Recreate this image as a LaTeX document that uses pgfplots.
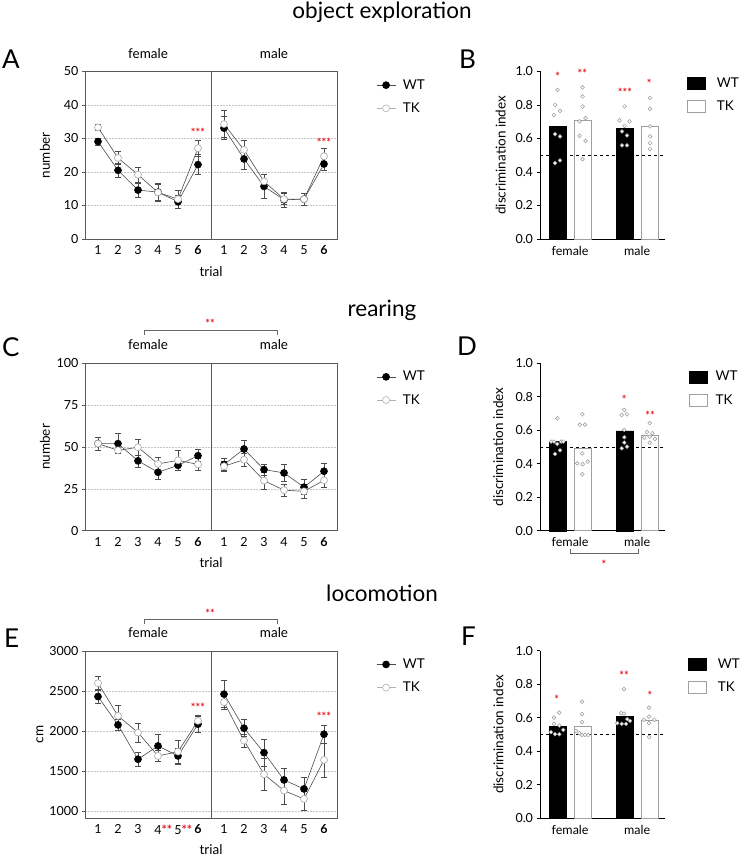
\documentclass[border=0pt]{standalone}
\usepackage{pgfplots}
\pgfplotsset{compat=1.18}
\usepackage{fontspec}
\setmainfont{Lato}
\definecolor{starred}{RGB}{230,20,30}
\begin{document}
\begin{tikzpicture}[x=1pt,y=-1pt]
\useasboundingbox (0,0) rectangle (740,858);
\tikzset{starn/.style={text=starred, font=\fontsize{11}{11}\selectfont\bfseries, anchor=base, inner sep=0pt},
  lab/.style={font=\fontsize{13.5}{15}\selectfont, anchor=base, inner sep=0pt},
  panel/.style={font=\fontsize{26}{28}\selectfont, anchor=base west, inner sep=0pt},
  ttl/.style={font=\fontsize{22.5}{24}\selectfont, anchor=base, inner sep=0pt}}
\newcommand{\st}[1]{\textcolor{starred}{\bfseries #1}}
\pgfplotsset{
  every axis/.append style={font=\fontsize{13.5}{15}\selectfont},
  tick label style={font=\fontsize{12.5}{14}\selectfont},
  /pgf/number format/assume math mode=true,
  wt/.style={black!70, line width=0.6pt, mark=*, mark size=3.5pt, mark options={fill=black, draw=black, solid},
    error bars/y dir=both, error bars/y explicit,
    error bars/error bar style={black!70, line width=0.6pt},
    error bars/error mark options={rotate=90, mark size=3pt, black!70, line width=0.6pt}},
  tk/.style={black!70, line width=0.6pt, mark=*, mark size=3.5pt, mark options={fill=white, draw=gray!70, solid},
    error bars/y dir=both, error bars/y explicit,
    error bars/error bar style={black!70, line width=0.6pt},
    error bars/error mark options={rotate=90, mark size=3pt, black!70, line width=0.6pt}},
  linepanel/.style={anchor=south west, scale only axis, width=252pt, height=167.5pt,
    xmin=0.35, xmax=12.95, xtick={1,2,3,4,5,6,7.3,8.3,9.3,10.3,11.3,12.3},
    axis line style={black!65, line width=0.6pt},
    x tick style={draw=none}, ytick pos=left, y tick style={black!65, line width=0.6pt},
    tick align=outside, major tick length=3pt,
    ymajorgrids, grid style={gray!45, line width=0.6pt, dash pattern=on 2pt off 1pt},
    xlabel={trial}, xlabel style={at={(axis description cs:0.5,-0.222)}, anchor=base},
    clip=false,
    legend style={at={(axis description cs:1.155,0.965)}, anchor=north west, draw=none, fill=none,
      font=\fontsize{13.5}{15}\selectfont, row sep=8pt, column sep=5pt, inner sep=0pt},
    legend cell align=left,
    legend image code/.code={\draw[mark repeat=2,mark phase=2,##1] plot coordinates {(0pt,0pt) (9.5pt,0pt) (19pt,0pt)};}},
  barpanel/.style={anchor=south west, scale only axis, width=125pt, height=167.5pt,
    xmin=0, xmax=125, ymin=0, ymax=1, axis x line*=bottom, axis y line*=left,
    axis line style={black, line width=0.7pt},
    xtick={30.1,97.2}, xticklabels={female,male}, x tick style={draw=none},
    ytick={0,0.2,0.4,0.6,0.8,1}, yticklabel style={/pgf/number format/.cd, fixed, fixed zerofill, precision=1},
    tick align=outside, y tick style={black, line width=0.7pt}, major tick length=3.5pt,
    ylabel={discrimination index}, clip=false,
    legend style={at={(axis description cs:1.176,0.975)}, anchor=north west, draw=none, fill=none,
      font=\fontsize{13.5}{15}\selectfont, row sep=8pt, column sep=9pt, inner sep=0pt},
    legend cell align=left,
    legend image code/.code={\draw[##1] (0pt,-6pt) rectangle (18pt,6pt);}},
  wtbar/.style={ybar, bar width=17, bar shift=0pt, fill=black, draw=black, forget plot},
  tkbar/.style={ybar, bar width=17, bar shift=0pt, fill=white, draw=gray!75, line width=0.7pt, forget plot},
  dots/.style={only marks, mark=*, mark size=1.9pt, mark options={fill=white, draw=gray!80, line width=0.5pt}, forget plot},
}

% ---------- titles and panel letters ----------
\node[ttl] at (382,18.5) {object exploration};
\node[ttl] at (382,316) {rearing};
\node[ttl] at (382,601.5) {locomotion};
\node[panel] at (2,68.3) {A};
\node[panel] at (459,68.3) {B};
\node[panel] at (2,356.7) {C};
\node[panel] at (457,355) {D};
\node[panel] at (4,647.3) {E};
\node[panel] at (461,645) {F};

\node[lab] at (148,58.3) {female};
\node[lab] at (274,58.3) {male};
\node[lab] at (148,349.3) {female};
\node[lab] at (274,349.3) {male};
\node[lab] at (148,637.7) {female};
\node[lab] at (274,637.7) {male};

\draw[black!60, line width=0.6pt] (144,335) -- (144,330.7) -- (277,330.7) -- (277,335);
\node[starn] at (210,327.5) {**};
\draw[black!60, line width=0.6pt] (144,623.5) -- (144,619.3) -- (277,619.3) -- (277,623.5);
\node[starn] at (210,617.5) {**};
\draw[black!60, line width=0.6pt] (570,549) -- (570,553) -- (638,553) -- (638,549);
\node[starn] at (604,568) {*};

% ---------- A ----------
\begin{axis}[linepanel, at={(85pt,-239pt)}, ymin=0, ymax=50, ytick={0,10,20,30,40,50},
  xticklabels={1,2,3,4,5,\textbf{6},1,2,3,4,5,\textbf{6}}, ylabel={number},
  ylabel style={at={(axis description cs:-0.159,0.5)}, anchor=center}]
\draw[black!65, line width=0.6pt] (axis cs:6.65,0) -- (axis cs:6.65,50);
\addplot[forget plot, wt] table[x=x, y=y, y error=e, row sep=\\] {x y e\\ 1 29.1 1.1\\ 2 20.5 2.0\\ 3 14.6 2.1\\ 4 14.0 2.5\\ 5 11.1 1.9\\ 6 22.2 3.0\\};
\addplot[forget plot, wt] table[x=x, y=y, y error=e, row sep=\\] {x y e\\ 7.3 33.1 3.4\\ 8.3 23.9 3.2\\ 9.3 15.7 3.5\\ 10.3 11.7 2.3\\ 11.3 11.9 1.7\\ 12.3 22.4 2.0\\};
\addplot[forget plot, tk] table[x=x, y=y, y error=e, row sep=\\] {x y e\\ 1 33.3 1.0\\ 2 24.2 2.0\\ 3 19.2 2.3\\ 4 13.9 2.5\\ 5 11.9 2.6\\ 6 27.1 2.5\\};
\addplot[forget plot, tk] table[x=x, y=y, y error=e, row sep=\\] {x y e\\ 7.3 34.3 4.0\\ 8.3 26.6 3.0\\ 9.3 17.2 2.2\\ 10.3 11.9 1.6\\ 11.3 11.9 1.8\\ 12.3 24.7 2.5\\};
\node[starn, yshift=-6pt] at (axis cs:6,32.5) {***};
\node[starn, yshift=-6pt] at (axis cs:12.3,29.3) {***};
\addlegendimage{black!70, line width=0.6pt, mark=*, mark size=3.5pt, mark options={fill=black, draw=black}}
\addlegendentry{WT}
\addlegendimage{gray!60, line width=0.6pt, mark=*, mark size=3.5pt, mark options={fill=white, draw=gray!60}}
\addlegendentry{TK}
\end{axis}

% ---------- B ----------
\begin{axis}[barpanel, at={(540pt,-239pt)}, ylabel style={at={(axis description cs:-0.314,0.5)}, anchor=center}]
\addplot[wtbar] coordinates {(17.5,0.672) (84.7,0.662)};
\addplot[tkbar] coordinates {(42.7,0.708) (109.7,0.670)};
\draw[black, dashed, line width=0.6pt] (axis cs:0,0.5) -- (axis cs:125,0.5);
\addplot[dots] coordinates {(17.5,0.89)(15,0.80)(20,0.765)(14,0.74)(15,0.626)(20,0.612)(20,0.469)(15,0.453)};
\addplot[dots] coordinates {(42.5,0.905)(42.5,0.851)(42.5,0.791)(45.5,0.722)(39.5,0.702)(39.5,0.616)(45.5,0.586)(42.5,0.477)};
\addplot[dots] coordinates {(84.5,0.791)(79.5,0.708)(89.5,0.702)(84.5,0.676)(82,0.642)(87,0.618)(82,0.559)(87,0.559)};
\addplot[dots] coordinates {(110,0.843)(110,0.777)(110,0.672)(110,0.612)(110,0.573)(110,0.537)};
\node[starn, yshift=-6pt] at (axis cs:17.7,0.98) {*};
\node[starn, yshift=-6pt] at (axis cs:42.3,1.0) {**};
\node[starn, yshift=-6pt] at (axis cs:85,0.885) {***};
\node[starn, yshift=-6pt] at (axis cs:109.3,0.94) {*};
\addlegendimage{fill=black, draw=black}
\addlegendentry{WT}
\addlegendimage{fill=white, draw=gray!75, line width=0.7pt}
\addlegendentry{TK}
\end{axis}

% ---------- C ----------
\begin{axis}[linepanel, at={(85pt,-530.7pt)}, ymin=0, ymax=100, ytick={0,25,50,75,100},
  xticklabels={1,2,3,4,5,\textbf{6},1,2,3,4,5,\textbf{6}}, ylabel={number},
  ylabel style={at={(axis description cs:-0.159,0.5)}, anchor=center}]
\draw[black!65, line width=0.6pt] (axis cs:6.65,0) -- (axis cs:6.65,100);
\addplot[forget plot, wt] table[x=x, y=y, y error=e, row sep=\\] {x y e\\ 1 52.0 4.0\\ 2 52.0 6.0\\ 3 41.7 3.6\\ 4 34.9 4.4\\ 5 39.0 3.0\\ 6 44.8 3.6\\};
\addplot[forget plot, wt] table[x=x, y=y, y error=e, row sep=\\] {x y e\\ 7.3 39.5 3.5\\ 8.3 48.8 5.0\\ 9.3 36.5 3.4\\ 10.3 34.5 5.0\\ 11.3 26.0 4.5\\ 12.3 35.5 5.0\\};
\addplot[forget plot, tk] table[x=x, y=y, y error=e, row sep=\\] {x y e\\ 1 52.0 4.0\\ 2 48.0 2.0\\ 3 49.8 4.5\\ 4 39.9 4.0\\ 5 42.0 6.0\\ 6 39.6 3.5\\};
\addplot[forget plot, tk] table[x=x, y=y, y error=e, row sep=\\] {x y e\\ 7.3 38.5 3.0\\ 8.3 42.4 4.0\\ 9.3 29.9 5.0\\ 10.3 24.2 3.6\\ 11.3 23.5 4.0\\ 12.3 30.1 4.0\\};
\addlegendimage{black!70, line width=0.6pt, mark=*, mark size=3.5pt, mark options={fill=black, draw=black}}
\addlegendentry{WT}
\addlegendimage{gray!60, line width=0.6pt, mark=*, mark size=3.5pt, mark options={fill=white, draw=gray!60}}
\addlegendentry{TK}
\end{axis}

% ---------- D ----------
\begin{axis}[barpanel, at={(540pt,-530.7pt)}, ylabel style={at={(axis description cs:-0.334,0.5)}, anchor=center},
  legend style={at={(axis description cs:1.19,0.965)}, column sep=6pt}]
\addplot[wtbar] coordinates {(17.5,0.532) (84.7,0.596)};
\addplot[tkbar] coordinates {(42.7,0.492) (109.7,0.572)};
\draw[black, dashed, line width=0.6pt] (axis cs:0,0.5) -- (axis cs:125,0.5);
\addplot[dots] coordinates {(17.3,0.671)(11,0.532)(14,0.532)(21,0.532)(23.3,0.532)(17.3,0.518)(20,0.48)(15,0.458)};
\addplot[dots] coordinates {(42.3,0.695)(39.7,0.633)(45,0.633)(42.3,0.462)(47.7,0.412)(37.3,0.402)(42.7,0.397)(42.3,0.337)};
\addplot[dots] coordinates {(84.3,0.721)(81.7,0.691)(87,0.695)(84.3,0.602)(84.3,0.558)(84.3,0.526)(81.7,0.492)(87,0.502)};
\addplot[dots] coordinates {(109.7,0.642)(107,0.588)(112.3,0.582)(104.3,0.556)(115,0.548)(109.7,0.526)(109.7,0.562)};
\node[starn, yshift=-6pt] at (axis cs:84.3,0.797) {*};
\node[starn, yshift=-6pt] at (axis cs:110,0.701) {**};
\addlegendimage{fill=black, draw=black}
\addlegendentry{WT}
\addlegendimage{fill=white, draw=gray!75, line width=0.7pt}
\addlegendentry{TK}
\end{axis}

% ---------- E ----------
\begin{axis}[linepanel, at={(85pt,-818.3pt)}, ymin=913, ymax=3000, ytick={1000,1500,2000,2500,3000},
  xticklabels={1,2,3,4\rlap{\st{**}},5\rlap{\st{**}},\textbf{6},1,2,3,4,5,\textbf{6}},
  ylabel={cm}, ylabel style={at={(axis description cs:-0.179,0.5)}, anchor=center},
  xlabel style={at={(axis description cs:0.5,-0.215)}},
  yticklabel style={/pgf/number format/.cd, set thousands separator={}}]
\draw[black!65, line width=0.6pt] (axis cs:6.65,913) -- (axis cs:6.65,3000);
\addplot[forget plot, wt] table[x=x, y=y, y error=e, row sep=\\] {x y e\\ 1 2430 85\\ 2 2077 70\\ 3 1649 90\\ 4 1815 145\\ 5 1690 100\\ 6 2086 100\\};
\addplot[forget plot, wt] table[x=x, y=y, y error=e, row sep=\\] {x y e\\ 7.3 2460 170\\ 8.3 2036 105\\ 9.3 1731 165\\ 10.3 1391 145\\ 11.3 1279 145\\ 12.3 1961 115\\};
\addplot[forget plot, tk] table[x=x, y=y, y error=e, row sep=\\] {x y e\\ 1 2597 90\\ 2 2189 130\\ 3 1981 118\\ 4 1690 72\\ 5 1744 145\\ 6 2127 70\\};
\addplot[forget plot, tk] table[x=x, y=y, y error=e, row sep=\\] {x y e\\ 7.3 2360 85\\ 8.3 1881 80\\ 9.3 1462 195\\ 10.3 1258 170\\ 11.3 1154 145\\ 12.3 1640 210\\};
\node[starn, yshift=-6pt] at (axis cs:6,2318) {***};
\node[starn, yshift=-6pt] at (axis cs:12.3,2202) {***};
\addlegendimage{black!70, line width=0.6pt, mark=*, mark size=3.5pt, mark options={fill=black, draw=black}}
\addlegendentry{WT}
\addlegendimage{gray!60, line width=0.6pt, mark=*, mark size=3.5pt, mark options={fill=white, draw=gray!60}}
\addlegendentry{TK}
\end{axis}

% ---------- F ----------
\begin{axis}[barpanel, at={(540pt,-818.3pt)}, ylabel style={at={(axis description cs:-0.333,0.5)}, anchor=center},
  legend style={at={(axis description cs:1.184,0.967)}}]
\addplot[wtbar] coordinates {(17.5,0.548) (84.7,0.607)};
\addplot[tkbar] coordinates {(42.7,0.55) (109.7,0.582)};
\draw[black, dashed, line width=0.6pt] (axis cs:0,0.5) -- (axis cs:125,0.5);
\addplot[dots] coordinates {(19.3,0.631)(14,0.601)(14,0.564)(19.3,0.554)(23.3,0.528)(11,0.514)(15,0.502)(19.3,0.502)};
\addplot[dots] coordinates {(42,0.697)(42,0.622)(42,0.574)(36,0.522)(39.3,0.508)(42,0.498)(45,0.498)(48.3,0.498)};
\addplot[dots] coordinates {(84,0.771)(81,0.628)(84,0.625)(87.3,0.592)(90,0.582)(77.3,0.568)(81.7,0.564)(86,0.564)};
\addplot[dots] coordinates {(109,0.661)(109,0.607)(104,0.588)(114.3,0.588)(109,0.568)(109,0.484)};
\node[starn, yshift=-6pt] at (axis cs:16.7,0.721) {*};
\node[starn, yshift=-6pt] at (axis cs:84,0.867) {**};
\node[starn, yshift=-6pt] at (axis cs:110,0.747) {*};
\addlegendimage{fill=black, draw=black}
\addlegendentry{WT}
\addlegendimage{fill=white, draw=gray!75, line width=0.7pt}
\addlegendentry{TK}
\end{axis}
\end{tikzpicture}
\end{document}
